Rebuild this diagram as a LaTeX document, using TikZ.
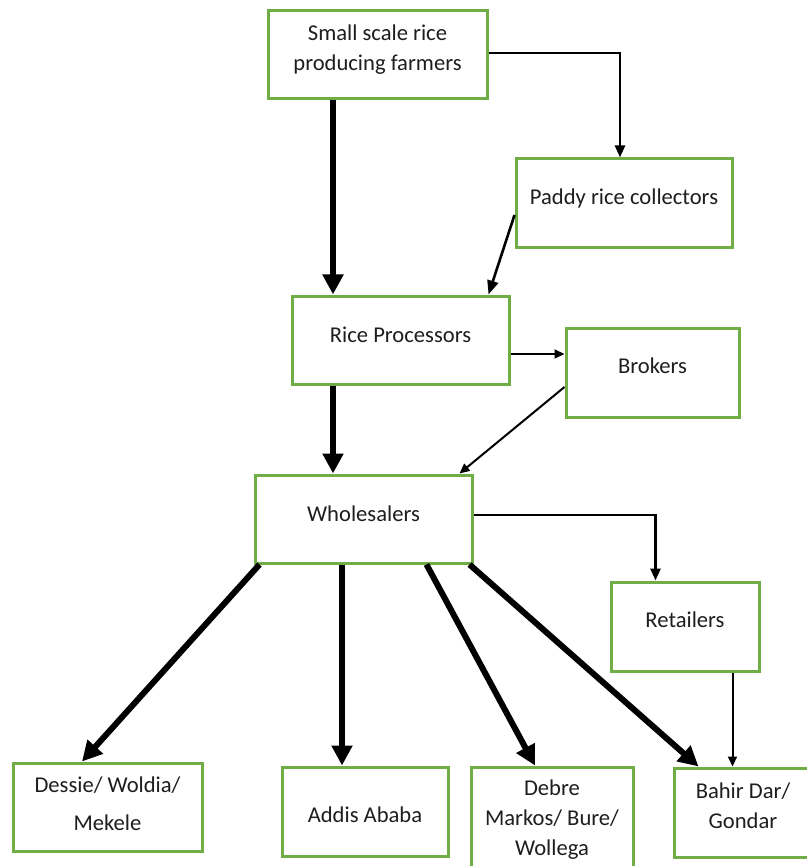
\documentclass[tikz,border=0pt]{standalone}
\usepackage{fontspec}
\setmainfont{Carlito}
\usetikzlibrary{arrows.meta,calc}
\definecolor{boxgreen}{HTML}{70AD47}
\definecolor{ink}{HTML}{1E1E1E}
\begin{document}
\begin{tikzpicture}[x=1pt,y=-1pt,
  chainbox/.style={draw=boxgreen,line width=3pt,fill=white,inner sep=0pt},
  boxtext/.style={anchor=base,align=center,inner sep=0pt,text=ink,
    font=\fontsize{22.6pt}{30pt}\selectfont},
  thinflow/.style={draw=black,line width=2pt,-{Triangle[length=10pt,width=9pt]}},
  elbowflow/.style={draw=black,line width=2.6pt,-{Triangle[length=12pt,width=10pt]}},
  midflow/.style={draw=black,line width=2.6pt,-{Triangle[length=14pt,width=11pt]}},
  thickflow/.style={draw=black,line width=6pt,-{Triangle[length=20pt,width=20pt]}}]
\useasboundingbox[fill=white] (0,0) rectangle (806,866);

% boxes of the marketing chain
\node[chainbox,minimum width=219pt,minimum height=88pt] (farm)   at (377.5,55)  {};
\node[chainbox,minimum width=216pt,minimum height=89pt] (paddy)  at (624,203.5) {};
\node[chainbox,minimum width=217pt,minimum height=88pt] (proc)   at (400.5,340) {};
\node[chainbox,minimum width=173pt,minimum height=89pt] (brok)   at (652.5,372.5) {};
\node[chainbox,minimum width=217pt,minimum height=88pt] (whole)  at (363.5,519) {};
\node[chainbox,minimum width=148pt,minimum height=89pt] (ret)    at (685,626.5) {};
\node[chainbox,minimum width=189pt,minimum height=88pt] (dessie) at (107.5,807) {};
\node[chainbox,minimum width=166pt,minimum height=89pt] (addis)  at (365,811.5) {};
\node[chainbox,minimum width=162pt,minimum height=106pt] (debre) at (552,820) {};
\node[chainbox,minimum width=138pt,minimum height=89pt] (bahir)  at (743,812.5) {};

% labels (base anchor sits on the last line)
\node[boxtext] (farm-t)   at (377.5,71) {Small scale rice\\producing farmers};
\node[boxtext] (paddy-t)  at (624,205)  {Paddy rice collectors};
\node[boxtext] (proc-t)   at (400.5,342) {Rice Processors};
\node[boxtext] (brok-t)   at (652.5,373) {Brokers};
\node[boxtext] (whole-t)  at (363.5,521) {Wholesalers};
\node[boxtext] (ret-t)    at (685,627)  {Retailers};
\node[boxtext] (dessie-t) at (107.5,830) {Dessie/ Woldia/\\[8pt]Mekele};
\node[boxtext] (addis-t)  at (365,822)  {Addis Ababa};
\node[boxtext] (debre-t)  at (552,855)  {Debre\\Markos/ Bure/\\Wollega};
\node[boxtext] (bahir-t)  at (743,828)  {Bahir Dar/\\Gondar};

% main flow (thick)
\coordinate (mainx) at (333,0);
\draw[thickflow] (farm.south -| mainx) -- (proc.north -| mainx);
\draw[thickflow] (proc.south -| mainx) -- (whole.north -| mainx);

% farmers to collectors to processors
\draw[elbowflow] ([yshift=2pt]farm.east) -| ([xshift=-4pt]paddy.north);
\draw[midflow] ([yshift=-11.5pt]paddy.west) -- ([xshift=-22pt]proc.north east);

% processors to brokers to wholesalers
\coordinate (pb) at ([yshift=-14pt]proc.east);
\draw[thinflow] (pb) -- (pb -| brok.west);
\draw[thinflow] ([yshift=-14.5pt]brok.west) -- ([xshift=-14pt]whole.north east);

% wholesalers to retailers to Bahir Dar
\draw[elbowflow] ([yshift=4pt]whole.east) -| ([xshift=46pt]ret.north west);
\coordinate (rb) at ([xshift=-28pt]ret.south east);
\draw[thinflow] (rb) -- (rb |- bahir.north);

% wholesalers to the regional markets
\coordinate (aa) at ([xshift=-21.5pt]whole.south);
\draw[thickflow] ([xshift=6pt]whole.south west) -- ([xshift=-25.5pt]dessie.north);
\draw[thickflow] (aa) -- (aa |- addis.north);
\draw[thickflow] ([xshift=-47pt]whole.south east) -- ([xshift=-17pt]debre.north);
\draw[thickflow] ([xshift=-4pt]whole.south east) -- ([xshift=26pt]bahir.north west);
\end{tikzpicture}
\end{document}
